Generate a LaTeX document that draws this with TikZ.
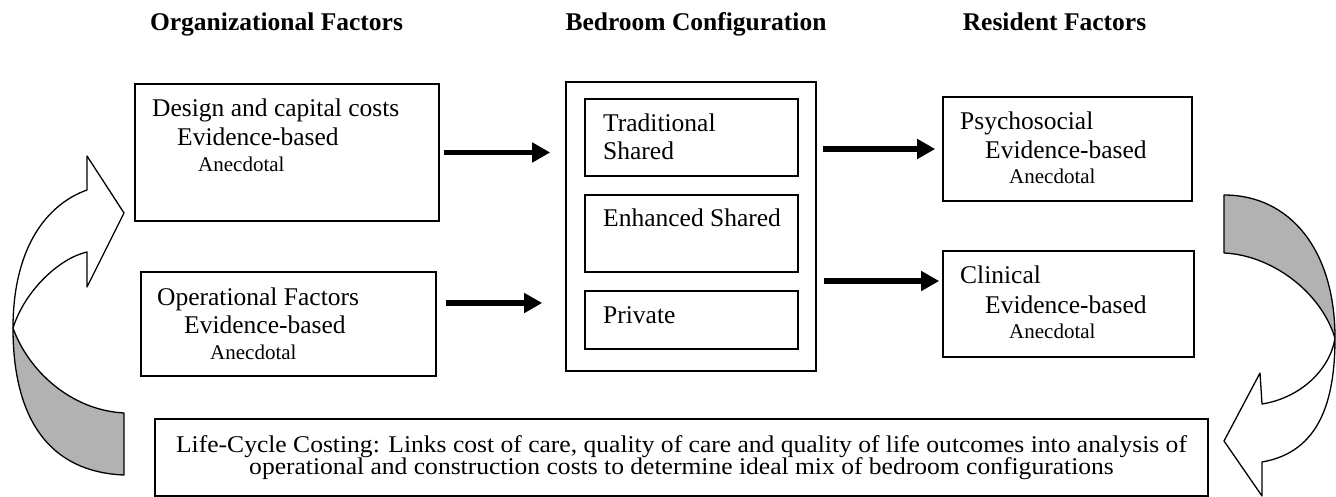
\documentclass[tikz,border=0pt]{standalone}
\usepackage{fontspec}
\setmainfont{Liberation Serif}
\newfontfamily\lcfont[FakeStretch=1.065]{Liberation Serif}
\usetikzlibrary{arrows.meta}
\begin{document}
\begin{tikzpicture}[x=1pt,y=-1pt,
  box/.style={draw, line width=1.6pt, rectangle, inner sep=0pt},
  txt/.style={anchor=base west, inner sep=0pt, font=\fontsize{25.5}{30}\selectfont},
  small/.style={anchor=base west, inner sep=0pt, font=\fontsize{21}{25}\selectfont},
  head/.style={anchor=base, inner sep=0pt, font=\fontsize{25.5}{30}\selectfont\bfseries},
  lc/.style={anchor=base, inner sep=0pt, font=\lcfont\fontsize{24}{21}\selectfont},
  bigarrow/.style={line width=5.5pt, -{Triangle[length=18pt,width=19pt]}},
  ribbon/.style={draw, line width=1.3pt, line join=round}
]
\useasboundingbox (0,0) rectangle (1336,497);

% headings
\node[head] (h1) at (276.5,31) {Organizational Factors};
\node[head] (h2) at (696,31) {Bedroom Configuration};
\node[head] (h3) at (1054.5,31) {Resident Factors};

% boxes
\node[box, minimum width=304pt, minimum height=137pt] (design) at (287,152.5) {};
\node[box, minimum width=295pt, minimum height=104pt] (oper) at (288.5,324) {};
\node[box, minimum width=250pt, minimum height=289pt] (bedroom) at (691,226.5) {};
\node[box, minimum width=213pt, minimum height=77pt] (trad) at (691.5,137.5) {};
\node[box, minimum width=213pt, minimum height=77pt] (enh) at (691.5,233.5) {};
\node[box, minimum width=213pt, minimum height=58pt] (priv) at (691.5,320) {};
\node[box, minimum width=249pt, minimum height=104pt] (psych) at (1067.5,149) {};
\node[box, minimum width=251pt, minimum height=106pt] (clin) at (1068.5,304) {};
\node[box, minimum width=1053pt, minimum height=77pt] (life) at (681.5,457.5) {};

% texts
\node[txt] (d1) at (152,117) {Design and capital costs};
\node[txt] (d2) at (177,146) {Evidence-based};
\node[small] (d3) at (198,172) {Anecdotal};
\node[txt] (o1) at (157,305) {Operational Factors};
\node[txt] (o2) at (184,333) {Evidence-based};
\node[small] (o3) at (210,359) {Anecdotal};
\node[txt] (p1) at (960,130) {Psychosocial};
\node[txt] (p2) at (985,159) {Evidence-based};
\node[small] (p3) at (1009,184) {Anecdotal};
\node[txt] (c1) at (960,283) {Clinical};
\node[txt] (c2) at (985,313) {Evidence-based};
\node[small] (c3) at (1009,338) {Anecdotal};
\node[txt] (tr1) at (603,132) {Traditional};
\node[txt] (tr2) at (603,160) {Shared};
\node[txt] (en1) at (603,227) {Enhanced Shared};
\node[txt] (pr1) at (603,323) {Private};
\node[lc] (l1) at (681.5,452) {Life-Cycle Costing: Links cost of care, quality of care and quality of life outcomes into analysis of};
\node[lc] (l2) at (681.5,474) {operational and construction costs to determine ideal mix of bedroom configurations};

% straight arrows
\draw[bigarrow, shorten <=4pt, shorten >=15pt] (design.east) -- (design.east -| bedroom.west);
\draw[bigarrow, shorten <=9pt, shorten >=23pt] ([yshift=21pt]oper.east) -- ([yshift=21pt]oper.east -| bedroom.west);
\draw[bigarrow, shorten <=6pt, shorten >=7pt] (psych.west -| bedroom.east) -- (psych.west);
\draw[bigarrow, shorten <=7pt, shorten >=3pt] ([yshift=23pt]clin.west -| bedroom.east) -- ([yshift=23pt]clin.west);

% left ribbon arrow
\draw[ribbon, fill=white] (87,190) -- (87,156) -- (124,213) -- (87,287) -- (87,252)
  .. controls (60,258) and (25,290) .. (13,328)
  .. controls (13,250) and (45,205) .. (87,190) -- cycle;
\draw[ribbon, fill=black!30] (13,328) .. controls (13,420) and (50,472) .. (124,475)
  -- (124,413) .. controls (70,410) and (28,370) .. (13,328) -- cycle;

% right ribbon arrow
\draw[ribbon, fill=black!30] (1224,195) .. controls (1290,195) and (1335,250) .. (1335,338)
  .. controls (1320,290) and (1270,255) .. (1224,253) -- cycle;
\draw[ribbon, fill=white] (1335,338) .. controls (1335,400) and (1320,452) .. (1262,462)
  -- (1262,496) -- (1224,441) -- (1260,373) -- (1262,404)
  .. controls (1300,398) and (1330,370) .. (1335,338) -- cycle;
\end{tikzpicture}
\end{document}
